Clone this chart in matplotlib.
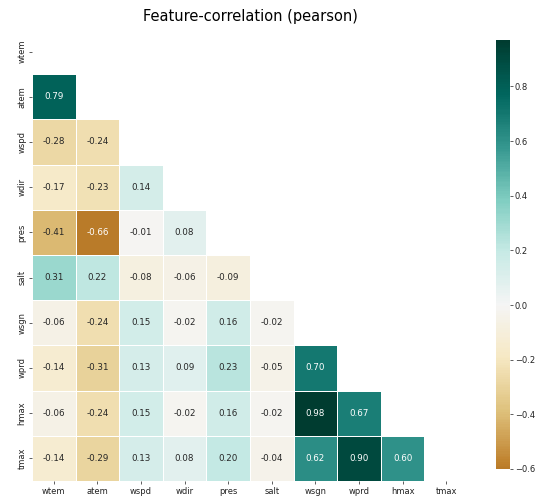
import numpy as np
import pandas as pd
import seaborn as sns
from matplotlib import pyplot as plt

# feature names
features = ["wtem", "atem", "wspd", "wdir", "pres", "salt", "wsgn", "wprd", "hmax", "tmax"]

# lower triangle of the pearson correlation matrix, row by row
row_atem = [0.79]
row_wspd = [-0.28, -0.24]
row_wdir = [-0.17, -0.23, 0.14]
row_pres = [-0.41, -0.66, -0.01, 0.08]
row_salt = [0.31, 0.22, -0.08, -0.06, -0.09]
row_wsgn = [-0.06, -0.24, 0.15, -0.02, 0.16, -0.02]
row_wprd = [-0.14, -0.31, 0.13, 0.09, 0.23, -0.05, 0.70]
row_hmax = [-0.06, -0.24, 0.15, -0.02, 0.16, -0.02, 0.98, 0.67]
row_tmax = [-0.14, -0.29, 0.13, 0.08, 0.20, -0.04, 0.62, 0.90, 0.60]

lower_rows = [row_atem, row_wspd, row_wdir, row_pres, row_salt,
              row_wsgn, row_wprd, row_hmax, row_tmax]

# build the full symmetric matrix
n = len(features)
corr = np.eye(n)
for i, row in enumerate(lower_rows, start=1):
    for j, v in enumerate(row):
        corr[i, j] = v
        corr[j, i] = v
corr = pd.DataFrame(corr, index=features, columns=features)

# hide upper triangle and diagonal
mask = np.triu(np.ones_like(corr, dtype=bool))

fig = plt.figure(figsize=(5.37, 4.96), dpi=100)
ax = fig.add_axes([32 / 537, 1 - 481 / 496, 436 / 537, 452 / 496])
cax = fig.add_axes([496 / 537, 1 - 469 / 496, 14 / 537, 429 / 496])

sns.heatmap(corr, mask=mask, cmap="BrBG", center=0, vmin=-0.6, vmax=0.97,
            annot=True, fmt=".2f", annot_kws={"size": 6.3},
            linewidths=0.5, linecolor="white", ax=ax, cbar_ax=cax)

ax.tick_params(axis="both", labelsize=6, length=2, width=0.6, pad=2,
               color="#444444", labelcolor="#222222")
ax.set_yticklabels(features, rotation=90, va="center")
ax.set_xticklabels(features, rotation=0)
cax.tick_params(labelsize=6, length=2, width=0.6, pad=1.5,
                color="#444444", labelcolor="#222222")

ax.set_title("Feature-correlation (pearson)", fontsize=10.5, pad=6)

plt.savefig("out.png", dpi=100)
